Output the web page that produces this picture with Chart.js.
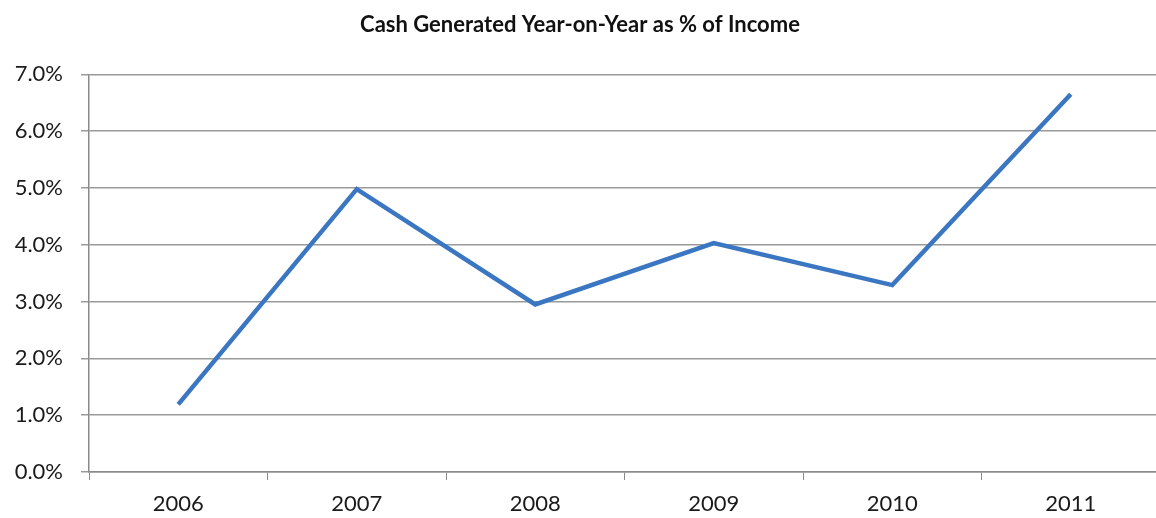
<!DOCTYPE html>
<html lang="en">

<head>
  <meta charset="UTF-8" />
  <title>Cash Generated</title>
  <style>
    html, body {
      margin: 0;
      padding: 0;
      overflow: hidden;
      background: #fff;
    }
    div {
      width: 1160px;
      height: 518px;
    }
  </style>
</head>

<body>
  <div>
    <canvas id="myChart"></canvas>
  </div>

  <script src="https://cdn.jsdelivr.net/npm/chart.js"></script>
  <script>
    const years = ["2006", "2007", "2008", "2009", "2010", "2011"];
    const cashPct = [1.19, 4.98, 2.95, 4.03, 3.29, 6.65];
    const yTicks = [0, 1, 2, 3, 4, 5, 6, 7];

    const ctx = document.getElementById("myChart");
    const data = {
      labels: years,
      datasets: [
        {
          label: "Cash Generated",
          data: cashPct,
          borderColor: "#3a76c2",
          borderWidth: 4.5,
          pointRadius: 0,
          tension: 0,
          fill: false,
        },
      ],
    };
    const config = {
      type: "line",
      data: data,
      options: {
        responsive: true,
        maintainAspectRatio: false,
        animation: false,
        layout: { padding: { left: 0, right: 0, bottom: 0 } },
        plugins: {
          legend: { display: false },
          tooltip: { enabled: false },
          title: {
            display: true,
            text: "Cash Generated Year-on-Year as % of Income",
            color: "#111",
            font: { family: "Lato", size: 22, weight: "bold" },
            padding: { top: 12, bottom: 36 },
          },
        },
        scales: {
          x: {
            offset: true,
            grid: {
              offset: true,
              drawOnChartArea: false,
              drawTicks: true,
              tickLength: 8,
              color: "#8a8a8a",
            },
            border: { color: "#8a8a8a", width: 1.5 },
            ticks: {
              color: "#1a1a1a",
              font: { family: "Lato", size: 22 },
              padding: 11,
            },
            afterFit: (s) => { s.height = 46; },
          },
          y: {
            min: 0,
            max: 7,
            afterBuildTicks: (s) => { s.ticks = yTicks.map((v) => ({ value: v })); },
            grid: {
              color: "#9a9a9a",
              lineWidth: 1.5,
              tickLength: 8,
            },
            border: { color: "#8a8a8a", width: 1.5 },
            ticks: {
              color: "#1a1a1a",
              font: { family: "Lato", size: 22 },
              padding: 18,
              callback: (v) => v.toFixed(1) + "%",
            },
            afterFit: (s) => { s.width = 89; },
          },
        },
      },
    };
    new Chart(ctx, config);
  </script>
</body>

</html>
